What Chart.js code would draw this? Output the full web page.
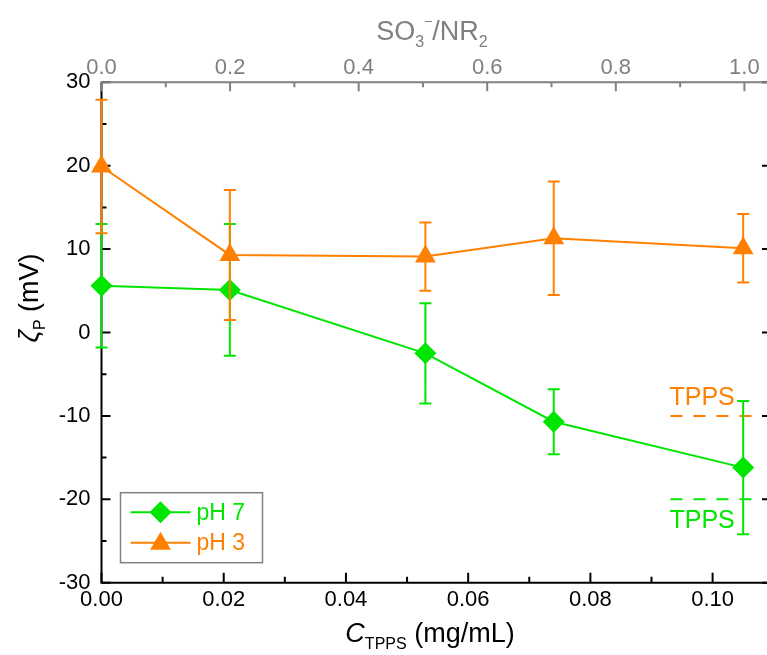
<!DOCTYPE html>
<html>
<head>
<meta charset="utf-8">
<script src="https://cdn.jsdelivr.net/npm/chart.js@4.4.1/dist/chart.umd.min.js"></script>
<style>
  html, body { margin: 0; padding: 0; background: #fff; overflow: hidden; }
  #wrap { width: 767px; height: 655px; }
</style>
</head>
<body>
<div id="wrap"><canvas id="zetaChart" width="767" height="655"></canvas></div>
<script>
// values
const concentration = [0, 0.021, 0.053, 0.074, 0.105];   // C_TPPS (mg/mL)
const zetaPh7 = [5.6, 5.1, -2.5, -10.7, -16.2];
const errPh7 = [7.4, 7.9, 6.0, 3.9, 8.0];
const zetaPh3 = [19.9, 9.3, 9.1, 11.3, 10.1];
const errPh3 = [8.0, 7.8, 4.1, 6.8, 4.1];

// short dashed "TPPS" reference levels
const tppsX = [0.0931, 0.1069];
const tppsPh3 = [-10, -10];
const tppsPh7 = [-20, -20];

// axes
const concMax = 0.1089;
const ratioAtTop = 0.1052;           // C_TPPS where SO3-/NR2 = 1.0
const yMajor = [-30, -20, -10, 0, 10, 20, 30];
const yMinor = [-25, -15, -5, 5, 15, 25];
const concMajor = [0, 0.02, 0.04, 0.06, 0.08, 0.10];
const concMinor = [0.01, 0.03, 0.05, 0.07, 0.09];
const ratioMajor = [0, 0.2, 0.4, 0.6, 0.8, 1.0];
const ratioMinor = [0.1, 0.3, 0.5, 0.7, 0.9];

const GREEN = '#00e600';
const ORANGE = '#ff8000';
const GRAY = '#808080';
const FONT = "'Liberation Sans', Arial, sans-serif";

function pts(xs, ys) {
  return xs.map((x, i) => ({ x: x, y: ys[i] }));
}

// keep the plot box fixed: no extra room for edge labels
function fixBox(size) {
  return s => {
    if (s.isHorizontal()) s.height = size; else s.width = size;
    s.paddingLeft = 0; s.paddingRight = 0; s.paddingTop = 0; s.paddingBottom = 0;
  };
}

// draws text made of pieces with different fonts (sub/superscripts)
function richText(ctx, parts, x, y) {
  let w = 0;
  parts.forEach(p => { ctx.font = p.font; p.w = ctx.measureText(p.t).width; w += p.w; });
  let cx = x - w / 2;
  ctx.textAlign = 'left';
  ctx.textBaseline = 'alphabetic';
  parts.forEach(p => {
    ctx.font = p.font;
    ctx.fillText(p.t, cx, y + (p.dy || 0));
    cx += p.w;
  });
}

function marker(ctx, style, x, y, r) {
  ctx.beginPath();
  if (style === 'triangle') {
    ctx.moveTo(x, y - r);
    ctx.lineTo(x + r * 0.866, y + r * 0.5);
    ctx.lineTo(x - r * 0.866, y + r * 0.5);
  } else {
    ctx.moveTo(x, y - r);
    ctx.lineTo(x + r, y);
    ctx.lineTo(x, y + r);
    ctx.lineTo(x - r, y);
  }
  ctx.closePath();
  ctx.fill();
}

const framePlugin = {
  id: 'frame',
  beforeDatasetsDraw(chart) {
    const { ctx, chartArea: a, scales } = chart;
    const x = scales.x, x2 = scales.x2, y = scales.y;
    ctx.save();
    ctx.lineWidth = 2;
    // left + bottom axis (black)
    ctx.strokeStyle = '#000';
    ctx.beginPath();
    ctx.moveTo(a.left, a.top);
    ctx.lineTo(a.left, a.bottom);
    ctx.lineTo(a.right, a.bottom);
    ctx.stroke();
    ctx.beginPath();
    yMajor.forEach(v => { const p = y.getPixelForValue(v); ctx.moveTo(a.left, p); ctx.lineTo(a.left + 9, p); });
    yMinor.forEach(v => { const p = y.getPixelForValue(v); ctx.moveTo(a.left, p); ctx.lineTo(a.left + 5, p); });
    // right axis sits just outside the picture, only tick tips show
    yMajor.forEach(v => { const p = y.getPixelForValue(v); ctx.moveTo(a.right + 5, p); ctx.lineTo(a.right - 5, p); });
    concMajor.forEach(v => { const p = x.getPixelForValue(v); ctx.moveTo(p, a.bottom); ctx.lineTo(p, a.bottom - 10); });
    concMinor.forEach(v => { const p = x.getPixelForValue(v); ctx.moveTo(p, a.bottom); ctx.lineTo(p, a.bottom - 6); });
    ctx.stroke();
    // top axis (gray)
    ctx.strokeStyle = GRAY;
    ctx.beginPath();
    ctx.moveTo(a.left - 1, a.top);
    ctx.lineTo(a.right, a.top);
    ratioMajor.forEach(v => { const p = x2.getPixelForValue(v); ctx.moveTo(p, a.top); ctx.lineTo(p, a.top + 9); });
    ratioMinor.forEach(v => { const p = x2.getPixelForValue(v); ctx.moveTo(p, a.top); ctx.lineTo(p, a.top + 5); });
    ctx.stroke();
    ctx.restore();
  },
  beforeDatasetDraw(chart, args) {
    const ds = chart.data.datasets[args.index];
    if (!ds.errors) return;
    const { ctx, scales } = chart;
    ctx.save();
    ctx.strokeStyle = ds.borderColor;
    ctx.lineWidth = 2;
    ctx.beginPath();
    ds.data.forEach((d, i) => {
      const px = scales.x.getPixelForValue(d.x);
      const top = scales.y.getPixelForValue(d.y + ds.errors[i]);
      const bot = scales.y.getPixelForValue(d.y - ds.errors[i]);
      ctx.moveTo(px, top); ctx.lineTo(px, bot);
      ctx.moveTo(px - 6, top); ctx.lineTo(px + 6, top);
      ctx.moveTo(px - 6, bot); ctx.lineTo(px + 6, bot);
    });
    ctx.stroke();
    ctx.restore();
  },
  afterDraw(chart) {
    const { ctx, chartArea: a, scales } = chart;
    const x = scales.x, y = scales.y;
    ctx.save();

    // TPPS labels next to the dashed levels
    ctx.font = '25px ' + FONT;
    ctx.textAlign = 'left';
    ctx.textBaseline = 'alphabetic';
    ctx.fillStyle = ORANGE;
    ctx.fillText('TPPS', x.getPixelForValue(tppsX[0]) - 1, y.getPixelForValue(tppsPh3[0]) - 11);
    ctx.fillStyle = GREEN;
    ctx.fillText('TPPS', x.getPixelForValue(tppsX[0]) - 1, y.getPixelForValue(tppsPh7[0]) + 29);

    // legend
    const lx = a.left + 19, ly = a.bottom - 90;
    ctx.strokeStyle = GRAY;
    ctx.lineWidth = 1.5;
    ctx.strokeRect(lx, ly, 142, 70);
    const rows = [
      { label: 'pH 7', color: GREEN, style: 'diamond', r: 11, dy: 19.5 },
      { label: 'pH 3', color: ORANGE, style: 'triangle', r: 12, dy: 50 }
    ];
    rows.forEach(r => {
      const ry = ly + r.dy;
      ctx.strokeStyle = r.color;
      ctx.fillStyle = r.color;
      ctx.lineWidth = 2;
      ctx.beginPath();
      ctx.moveTo(lx + 10, ry); ctx.lineTo(lx + 70, ry);
      ctx.stroke();
      marker(ctx, r.style, lx + 40, ry + (r.style === 'triangle' ? 1 : 0), r.r);
      ctx.font = '23px ' + FONT;
      ctx.textBaseline = 'middle';
      ctx.fillText(r.label, lx + 76, ry + 1);
    });

    // axis titles
    ctx.fillStyle = '#000';
    richText(ctx, [
      { t: 'C', font: 'italic 27px ' + FONT },
      { t: 'TPPS', font: '16px ' + FONT, dy: 7 },
      { t: ' (mg/mL)', font: '27px ' + FONT }
    ], 430, 642);

    ctx.fillStyle = GRAY;
    richText(ctx, [
      { t: 'SO', font: '27px ' + FONT },
      { t: '3', font: '16px ' + FONT, dy: 7 },
      { t: '\u2212', font: '14px ' + FONT, dy: -14 },
      { t: '/NR', font: '27px ' + FONT },
      { t: '2', font: '16px ' + FONT, dy: 7 }
    ], 432, 40);

    ctx.fillStyle = '#000';
    ctx.translate(30, 298);
    ctx.rotate(-Math.PI / 2);
    richText(ctx, [
      { t: '\u03B6', font: 'italic 27px ' + FONT },
      { t: 'P', font: '16px ' + FONT, dy: 7 },
      { t: ' (mV)', font: '27px ' + FONT }
    ], 0, 8);
    ctx.restore();
  }
};

const tickFont = { family: FONT, size: 22 };

new Chart(document.getElementById('zetaChart'), {
  type: 'line',
  data: {
    datasets: [
      {
        label: 'pH 3',
        data: pts(concentration, zetaPh3),
        errors: errPh3,
        borderColor: ORANGE,
        backgroundColor: ORANGE,
        borderWidth: 2,
        pointStyle: 'triangle',
        pointRadius: 12,
        pointBorderWidth: 0,
        tension: 0,
        clip: false,
        order: 0
      },
      {
        label: 'pH 7',
        data: pts(concentration, zetaPh7),
        errors: errPh7,
        borderColor: GREEN,
        backgroundColor: GREEN,
        borderWidth: 2,
        pointStyle: 'rectRot',
        pointRadius: 11,
        pointBorderWidth: 0,
        tension: 0,
        clip: false,
        order: 1
      },
      {
        label: 'TPPS pH 3',
        data: pts(tppsX, tppsPh3),
        borderColor: ORANGE,
        borderWidth: 2,
        borderDash: [12, 11],
        pointRadius: 0,
        order: 2
      },
      {
        label: 'TPPS pH 7',
        data: pts(tppsX, tppsPh7),
        borderColor: GREEN,
        borderWidth: 2,
        borderDash: [12, 11],
        pointRadius: 0,
        order: 2
      }
    ]
  },
  options: {
    responsive: false,
    animation: false,
    layout: { padding: 0, autoPadding: false },
    plugins: { legend: { display: false }, tooltip: { enabled: false } },
    scales: {
      x: {
        type: 'linear', position: 'bottom', min: 0, max: concMax,
        afterFit: fixBox(72.3),
        grid: { display: false, drawTicks: false }, border: { display: false },
        ticks: {
          stepSize: 0.02, includeBounds: false, autoSkip: false, maxRotation: 0,
          padding: 4, color: '#000', font: tickFont,
          callback: v => v.toFixed(2)
        }
      },
      x2: {
        type: 'linear', position: 'top', min: 0, max: concMax / ratioAtTop,
        afterFit: fixBox(82.3),
        grid: { display: false, drawTicks: false }, border: { display: false },
        ticks: {
          stepSize: 0.2, includeBounds: false, autoSkip: false, maxRotation: 0,
          padding: 1, color: GRAY, font: tickFont,
          callback: v => v.toFixed(1)
        }
      },
      y: {
        type: 'linear', position: 'left', min: -30, max: 30,
        afterFit: fixBox(101.5),
        grid: { display: false, drawTicks: false }, border: { display: false },
        ticks: {
          stepSize: 10, padding: 11, color: '#000', font: tickFont,
          callback: v => String(v)
        }
      }
    }
  },
  plugins: [framePlugin]
});
</script>
</body>
</html>
